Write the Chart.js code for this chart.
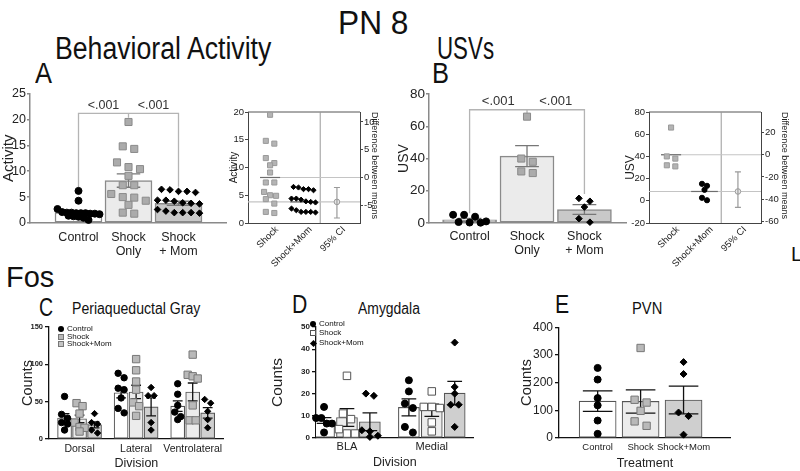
<!DOCTYPE html>
<html lang="en">
<head>
<meta charset="utf-8">
<title>PN 8</title>
<script src="https://cdn.jsdelivr.net/npm/chart.js@4.4.1/dist/chart.umd.min.js"></script>
<style>
  body { margin: 0; background: #fff; }
  #fig { position: relative; width: 800px; height: 471px; overflow: hidden; background: #fff;
         font-family: "Liberation Sans", Arial, sans-serif; color: #111; }
  #fig canvas { position: absolute; }
  .t { position: absolute; white-space: nowrap; line-height: 1; transform-origin: 0 0; }
  .lg { position: absolute; white-space: nowrap; font-size: 8px; line-height: 8px; color: #111; }
  .mk { display: inline-block; width: 6px; height: 6px; box-sizing: border-box; margin-right: 3px; vertical-align: -1px; }
  .dot { background: #000; border-radius: 50%; }
  .sq { background: #b9b9b9; border: 1px solid #777; }
  .sq2 { background: #c4c4c4; border: 1px solid #777; }
  .sqo { background: #fff; border: 1px solid #555; }
  .dia { width: 5px; height: 5px; background: #000; transform: rotate(45deg); margin-left: 1px; }
</style>
</head>
<body>
<div id="fig">
  <div class="t" style="left:338px;top:6px;font-size:33px;transform:scaleX(.96)">PN 8</div>
  <div class="t" style="left:55px;top:33px;font-size:31px;transform:scaleX(.86)">Behavioral Activity</div>
  <div class="t" style="left:437px;top:33px;font-size:31px;transform:scaleX(.72)">USVs</div>
  <div class="t" style="left:35px;top:58px;font-size:30px;transform:scaleX(.85)">A</div>
  <div class="t" style="left:432px;top:58px;font-size:30px;transform:scaleX(.85)">B</div>
  <div class="t" style="left:6px;top:263px;font-size:29px">Fos</div>
  <div class="t" style="left:39px;top:295px;font-size:25px;transform:scaleX(.78)">C</div>
  <div class="t" style="left:72px;top:301px;font-size:16px;transform:scaleX(.88)">Periaqueductal Gray</div>
  <div class="t" style="left:292px;top:292px;font-size:25px;transform:scaleX(.85)">D</div>
  <div class="t" style="left:358px;top:301px;font-size:16px;transform:scaleX(.87)">Amygdala</div>
  <div class="t" style="left:555px;top:292px;font-size:25px;transform:scaleX(.85)">E</div>
  <div class="t" style="left:632px;top:301px;font-size:16px;transform:scaleX(.92)">PVN</div>
  <div class="t" style="left:791px;top:244px;font-size:20px">L</div>

  <canvas id="cA" width="232" height="175" style="left:0;top:85px"></canvas>
  <canvas id="cAe" width="152" height="180" style="left:228px;top:100px"></canvas>
  <canvas id="cB" width="242" height="175" style="left:390px;top:85px"></canvas>
  <canvas id="cBe" width="170" height="180" style="left:620px;top:100px"></canvas>
  <canvas id="cC" width="230" height="153" style="left:0;top:318px"></canvas>
  <canvas id="cD" width="212" height="153" style="left:268px;top:318px"></canvas>
  <canvas id="cE" width="220" height="153" style="left:517px;top:318px"></canvas>
</div>

<script>
// ---- data ----
const treatments = ['Control', 'Shock', 'Shock+Mom'];

// A: behavioural activity
const actLabels = [['Control'], ['Shock', 'Only'], ['Shock', '+ Mom']];
const actTicks = [0, 5, 10, 15, 20, 25];
const actControl = [6.2, 4.3, 2.7, 2.1, 2.0, 2.0, 1.9, 1.9, 1.9, 1.8, 1.8, 1.7, 1.4, 1.3, 1.2, 1.0, 0.6];
const actShock = [19.5, 14.8, 14.3, 11.7, 10.8, 10.4, 9.1, 7.3, 7.3, 5.6, 5.0, 4.9, 4.3, 3.5, 2.0, 1.8];
const actMom = [6.5, 6.4, 6.1, 6.1, 5.9, 4.4, 4.4, 4.2, 3.9, 3.8, 3.7, 2.6, 2.3, 2.0, 2.0, 2.0, 1.9];
const actMean = [2.0, 8.2, 3.8];
const actSem = [0.4, 1.3, 0.4];
const actP = ['<.001', '<.001'];
const actEstTicks = [0, 5, 10, 15, 20];
const actDiffTicks = [-5, 0, 5, 10];
const actCI = [-7.3, -1.8];

// B: USVs
const usvLabels = [['Control'], ['Shock', 'Only'], ['Shock', '+ Mom']];
const usvTicks = [0, 20, 40, 60, 80];
const usvControl = [5.1, 5.1, 3.9, 1.0, 0.6, 0.3, 0.2];
const usvShock = [66, 40, 38, 32, 31];
const usvMom = [15.3, 13.5, 9.9, 2.7, 0.5];
const usvMean = [2.0, 41.5, 8.4];
const usvSem = [0.9, 6.5, 3.0];
const usvP = ['<.001', '<.001'];
const usvEstTicks = [-20, 0, 20, 40, 60, 80];
const usvDiffTicks = [-60, -40, -20, 0, 20];
const usvCI = [-47.5, -15.5];

const estLabels = ['Shock', 'Shock+Mom', '95% CI'];

// C: periaqueductal gray
const pagDivisions = ['Dorsal', 'Lateral', 'Ventrolateral'];
const pagTicks = [0, 50, 100, 150];
const pagControl = [[57, 33, 28, 22, 20, 12], [88, 82, 68, 66, 55, 41, 35], [74, 60, 45, 36, 30, 26]];
const pagShock = [[48, 44, 34, 22, 16, 15, 10], [107, 92, 77, 66, 49, 44, 31], [113, 86, 84, 81, 45, 25, 25]];
const pagMom = [[34, 22, 20, 12, 8], [69, 58, 58, 22, 12], [53, 48, 37, 26, 15]];
const pagControlMean = [28, 62, 44];
const pagShockMean = [27, 63, 63];
const pagMomMean = [19, 43, 35];
const pagControlSem = [6, 7, 7];
const pagShockSem = [5, 9, 12];
const pagMomSem = [4, 12, 7];

// D: amygdala
const amyDivisions = ['BLA', 'Medial'];
const amyTicks = [0, 10, 20, 30, 40, 50];
const amyControl = [[14, 9, 9, 6.5, 6.5, 2.5], [26, 21, 15.5, 13.5, 5, 2.5]];
const amyShock = [[28, 11, 8.5, 4, 2, 2], [21, 14, 14, 13.5, 7, 3]];
const amyMom = [[20, 19, 3.5, 3, 1, 0.5], [43, 23, 20, 15, 15, 5]];
const amyControlMean = [7.9, 13.8];
const amyShockMean = [9.2, 12.5];
const amyMomMean = [7.3, 20.2];
const amyControlSem = [1.3, 3.8];
const amyShockSem = [4.0, 2.8];
const amyMomSem = [4.0, 5.3];

// E: PVN
const pvnTicks = [0, 100, 200, 300, 400];
const pvnControl = [253, 211, 144, 118, 63, 15];
const pvnShock = [325, 138, 128, 98, 60, 44];
const pvnMom = [274, 231, 92, 79, 12];
const pvnMean = [133, 132, 137];
const pvnSem = [37, 42, 50];

// ---- helpers ----
Chart.defaults.font.family = '"Liberation Sans", Arial, sans-serif';
Chart.defaults.color = '#222';

const GRAY = '#8a8a8a';
const BLACK = '#111';

// mean +/- sem whiskers on bar datasets
const errorBars = {
  id: 'errorBars',
  afterDatasetDraw(chart, args) {
    const ds = chart.data.datasets[args.index];
    if (!ds.sem) return;
    const ctx = chart.ctx, y = chart.scales.y;
    ctx.save();
    ctx.strokeStyle = ds.err;
    ctx.lineWidth = 1.3;
    args.meta.data.forEach((bar, i) => {
      const m = ds.data[i].y, s = ds.sem[i];
      const yt = y.getPixelForValue(m + s), yb = y.getPixelForValue(m - s);
      const cap = bar.width * ds.cap;
      ctx.beginPath();
      ctx.moveTo(bar.x, yt); ctx.lineTo(bar.x, yb);
      ctx.moveTo(bar.x - cap, yt); ctx.lineTo(bar.x + cap, yt);
      ctx.moveTo(bar.x - cap, yb); ctx.lineTo(bar.x + cap, yb);
      ctx.stroke();
    });
    ctx.restore();
  }
};

// comparison bracket with p values
const bracket = {
  id: 'bracket',
  beforeDatasetsDraw(chart, args, o) {
    const ctx = chart.ctx, x = chart.scales.x, y = chart.scales.y;
    const [x0, x1, x2] = o.at.map(v => x.getPixelForValue(v));
    const yt = y.getPixelForValue(o.top);
    ctx.save();
    ctx.strokeStyle = o.color;
    ctx.lineWidth = 1.3;
    ctx.beginPath();
    ctx.moveTo(x0, y.getPixelForValue(o.legs[0])); ctx.lineTo(x0, yt);
    ctx.lineTo(x2, yt); ctx.lineTo(x2, y.getPixelForValue(o.legs[2]));
    ctx.moveTo(x1, yt); ctx.lineTo(x1, y.getPixelForValue(o.legs[1]));
    ctx.stroke();
    ctx.fillStyle = '#333';
    ctx.font = o.size + 'px "Liberation Sans", Arial, sans-serif';
    ctx.textAlign = 'center';
    ctx.textBaseline = 'middle';
    const yl = y.getPixelForValue(o.labelAt);
    ctx.fillText(o.labels[0], (x0 + x1) / 2, yl);
    ctx.fillText(o.labels[1], (x1 + x2) / 2, yl);
    ctx.restore();
  }
};

// estimation plot decorations: frame, divider, mean lines, CI whisker
const estimation = {
  id: 'estimation',
  beforeDatasetsDraw(chart, args, o) {
    const ctx = chart.ctx, a = chart.chartArea, x = chart.scales.x, y = chart.scales.y;
    const seg = (x1, y1, x2, y2) => { ctx.beginPath(); ctx.moveTo(x1, y1); ctx.lineTo(x2, y2); ctx.stroke(); };
    ctx.save();
    ctx.lineWidth = 1;
    ctx.strokeStyle = '#555';
    seg(a.left, a.top, a.right, a.top);
    ctx.strokeStyle = '#9a9a9a';
    const xd = x.getPixelForValue(o.divider);
    seg(xd, a.top, xd, a.bottom);
    const y1 = y.getPixelForValue(o.means[0]), y2 = y.getPixelForValue(o.means[1]);
    ctx.lineWidth = 1.2;
    ctx.strokeStyle = '#c4c4c4';
    seg(x.getPixelForValue(-0.3), y1, a.right, y1);
    seg(a.left, y2, a.right, y2);
    ctx.strokeStyle = '#6e6e6e';
    seg(x.getPixelForValue(-0.3), y1, x.getPixelForValue(0.3), y1);
    seg(x.getPixelForValue(0.6), y2, x.getPixelForValue(1.4), y2);
    ctx.restore();
  },
  afterDatasetsDraw(chart, args, o) {
    const ctx = chart.ctx, x = chart.scales.x, y2 = chart.scales.y2;
    const cx = x.getPixelForValue(2), lo = y2.getPixelForValue(o.ci[0]), hi = y2.getPixelForValue(o.ci[1]);
    ctx.save();
    ctx.strokeStyle = '#9a9a9a';
    ctx.lineWidth = 1.2;
    ctx.beginPath();
    ctx.moveTo(cx, lo); ctx.lineTo(cx, hi);
    ctx.moveTo(cx - 3, lo); ctx.lineTo(cx + 3, lo);
    ctx.moveTo(cx - 3, hi); ctx.lineTo(cx + 3, hi);
    ctx.stroke();
    ctx.restore();
  }
};

// spread overlapping points sideways, row by row (Prism style scatter)
function swarm(chart) {
  const xs = chart.scales.x, ys = chart.scales.y;
  chart.data.datasets.forEach(ds => {
    if (!ds.spread) return;
    const {row, step, half} = ds.spread;
    const groups = {};
    ds.data.forEach(p => (groups[p.c] = groups[p.c] || []).push(p));
    Object.values(groups).forEach(pts => {
      pts.sort((a, b) => b.y - a.y);
      let cur = [];
      const flush = () => {
        const n = cur.length;
        const st = n > 1 ? Math.min(step, 2 * half / (n - 1)) : 0;
        cur.forEach((p, i) => {
          p.x = xs.getValueForPixel(xs.getPixelForValue(p.c) + (i - (n - 1) / 2) * st);
        });
        cur = [];
      };
      pts.forEach(p => {
        if (cur.length && ys.getPixelForValue(p.y) - ys.getPixelForValue(cur[0].y) >= row) flush();
        cur.push(p);
      });
      flush();
    });
  });
  chart.update('none');
}

function dots(groups, centers, look, spread) {
  return {
    type: 'scatter',
    data: groups.flatMap((g, i) => g.map(v => ({x: centers[i], y: v, c: centers[i]}))),
    pointStyle: look.style, pointRadius: look.r, pointHoverRadius: look.r,
    pointBackgroundColor: look.fill, pointBorderColor: look.edge, pointBorderWidth: 1,
    yAxisID: 'y', order: 1, clip: false, spread
  };
}

function bars(means, sems, centers, fill, look) {
  return {
    type: 'bar',
    data: means.map((m, i) => ({x: centers[i], y: m})),
    sem: sems, err: look.err, cap: look.cap,
    backgroundColor: fill, borderColor: look.edge, borderWidth: look.bw, borderSkipped: false,
    maxBarThickness: look.w, barPercentage: 1, categoryPercentage: 1, grouped: false, order: 2
  };
}

function yAxis(o) {
  return {
    type: 'linear', position: o.pos || 'left', min: o.min, max: o.max,
    afterBuildTicks: s => { s.ticks = o.ticks.map(v => ({value: v})); },
    afterFit: s => { s.width = o.width; },
    border: {color: o.color, width: o.lw},
    grid: {drawOnChartArea: false, drawTicks: true, tickLength: o.tl || 4, color: o.color, lineWidth: o.lw},
    ticks: {font: o.font, color: '#222', padding: o.tp === undefined ? 2 : o.tp},
    title: {display: !!o.title, text: o.title, align: o.align || 'center', color: '#222',
            font: {size: o.titleSize}, padding: {top: o.titlePad || 0, bottom: 0}}
  };
}

function xAxis(o) {
  return {
    type: 'linear', position: 'bottom', min: o.min, max: o.max, offset: false,
    afterBuildTicks: s => { s.ticks = o.labels.map((_, i) => ({value: i})); },
    afterFit: s => { s.height = o.height; },
    border: {color: o.color, width: o.lw},
    grid: {display: false, drawTicks: false},
    ticks: {font: o.font, color: '#222', padding: o.pad, autoSkip: false, labelOffset: o.shift || 0,
            maxRotation: o.rot || 0, minRotation: o.rot || 0,
            callback: v => (o.labels[v] !== undefined ? o.labels[v] : '')},
    title: {display: !!o.title, text: o.title, color: '#222', font: {size: o.titleSize}, padding: {top: 0, bottom: o.titlePad || 0}}
  };
}

function options(pad, scales, extra) {
  return {
    responsive: false, animation: false, events: [],
    layout: {padding: Object.assign({left: 0, right: 0, top: 0, bottom: 0}, pad)},
    scales,
    plugins: Object.assign({legend: {display: false}, tooltip: {enabled: false}}, extra || {})
  };
}

const circle = (r) => ({style: 'circle', r, fill: '#000', edge: '#000'});
const square = (r, fill, edge) => ({style: 'rect', r, fill, edge});
const diamond = (r) => ({style: 'rectRot', r, fill: '#000', edge: '#000'});

// ---- A: activity bar chart ----
const chartA = new Chart(document.getElementById('cA'), {
  type: 'bar',
  data: {datasets: [
    dots([actControl], [0], circle(3.5), {row: 6, step: 5, half: 21}),
    dots([actShock], [1], square(5, '#ababab', '#8a8a8a'), {row: 7, step: 11.5, half: 18}),
    dots([actMom], [2], diamond(3.3), {row: 7, step: 8.5, half: 21}),
    bars(actMean, actSem, [0, 1, 2], ['#ffffff', '#ebebeb', '#c9c9c9'], {edge: GRAY, bw: 1.5, w: 47, err: '#777', cap: 0.25})
  ]},
  options: options({top: 8, right: 4}, {
    x: xAxis({min: -0.97, max: 2.95, labels: actLabels, height: 37, font: {size: 12.5, lineHeight: 1.08}, pad: 8, color: GRAY, lw: 1.5}),
    y: yAxis({min: 0, max: 25, ticks: actTicks, width: 30, font: {size: 12.5}, color: GRAY, lw: 1.5, tl: 3, tp: 1,
              title: 'Activity', titleSize: 15})
  }, {bracket: {at: [0, 1, 2], top: 21.15, legs: [6.6, 20.3, 7.0], labels: actP, labelAt: 22.6, color: '#b4b4b4', size: 12.5}}),
  plugins: [errorBars, bracket]
});
swarm(chartA);

// ---- B: USV bar chart ----
const chartB = new Chart(document.getElementById('cB'), {
  type: 'bar',
  data: {datasets: [
    dots([usvControl], [0], circle(3.5), {row: 7, step: 11, half: 22}),
    dots([usvShock], [1], square(5, '#ababab', '#8a8a8a'), {row: 7, step: 11.5, half: 20}),
    dots([usvMom], [2], diamond(3.3), {row: 7, step: 11, half: 20}),
    bars(usvMean, usvSem, [0, 1, 2], ['#ffffff', '#ebebeb', '#c9c9c9'], {edge: GRAY, bw: 1.5, w: 54, err: '#777', cap: 0.22})
  ]},
  options: options({top: 7, right: 4}, {
    x: xAxis({min: -0.707, max: 2.724, labels: usvLabels, height: 37, font: {size: 12.5, lineHeight: 1.12}, pad: 6.5, color: GRAY, lw: 1.5}),
    y: yAxis({min: 0, max: 80, ticks: usvTicks, width: 39, font: {size: 13.5}, color: GRAY, lw: 1.5, tl: 3, tp: 1,
              title: 'USV', titleSize: 14, titlePad: 5.6})
  }, {bracket: {at: [0, 1, 2], top: 70.3, legs: [6, 67.3, 18], labels: usvP, labelAt: 75.6, color: '#b4b4b4', size: 13}}),
  plugins: [errorBars, bracket]
});
swarm(chartB);

// ---- estimation plots ----
function estChart(id, c) {
  const shift = c.means[1];
  const chart = new Chart(document.getElementById(id), {
    type: 'scatter',
    data: {datasets: [
      dots([c.shock], [0], square(3.6, '#b4b4b4', '#9a9a9a'), {row: 5, step: 8.5, half: 6}),
      dots([c.mom], [1], c.momLook, {row: 4.5, step: 5, half: 12}),
      {type: 'scatter', yAxisID: 'y2', data: [{x: 2, y: c.means[2] - c.means[1]}], clip: false,
       pointStyle: 'circle', pointRadius: 2.8, pointBackgroundColor: '#e8e8e8', pointBorderColor: '#9a9a9a', pointBorderWidth: 1}
    ]},
    options: options({top: 12}, {
      x: xAxis({min: -0.66, max: 2.69, labels: estLabels, height: c.xh, font: {size: 9.5}, pad: 1, rot: 45, shift: 7, color: '#444', lw: 1}),
      y: yAxis({min: c.min, max: c.max, ticks: c.ticks, width: c.lw, font: {size: 9.5}, color: '#444', lw: 1, tl: 3, tp: 1,
                title: c.title, titleSize: c.titleSize, titlePad: c.titlePad}),
      y2: yAxis({pos: 'right', min: c.min - shift, max: c.max - shift, ticks: c.diffTicks, width: c.rw, font: {size: 9.5}, color: '#444', lw: 1, tl: 3, tp: 1,
                 title: 'Difference between means', titleSize: 9, align: 'end'})
    }, {estimation: {means: [c.means[1], c.means[2]], divider: 1.5, ci: c.ci}}),
    plugins: [estimation]
  });
  swarm(chart);
  return chart;
}

estChart('cAe', {shock: actShock, mom: actMom, momLook: diamond(2.6), means: actMean, min: 0, max: 20, ticks: actEstTicks,
  diffTicks: actDiffTicks, ci: actCI, lw: 20, rw: 20, xh: 57, title: 'Activity', titleSize: 10, titlePad: 0});
estChart('cBe', {shock: usvShock, mom: usvMom, momLook: circle(2.6), means: usvMean, min: -20, max: 80, ticks: usvEstTicks,
  diffTicks: usvDiffTicks, ci: usvCI, lw: 29, rw: 29, xh: 57, title: 'USV', titleSize: 12, titlePad: 3.5});

// ---- grouped Fos panels ----
function fosChart(id, c) {
  const at = (d) => c.divisions.map((_, i) => i + d * c.off);
  const chart = new Chart(document.getElementById(id), {
    type: 'bar',
    data: {datasets: [
      dots(c.pts[0], at(-1), circle(c.r), c.spread),
      dots(c.pts[1], at(0), c.shockLook, c.spread),
      dots(c.pts[2], at(1), diamond(c.r), c.spread),
      bars(c.means[0], c.sems[0], at(-1), '#ffffff', c.bar),
      bars(c.means[1], c.sems[1], at(0), '#ececec', c.bar),
      bars(c.means[2], c.sems[2], at(1), '#cfcfcf', c.bar)
    ]},
    options: options(c.pad, {
      x: xAxis({min: c.xmin, max: c.xmax, labels: c.divisions, height: c.xh, font: {size: c.xfont}, pad: c.xpad, color: BLACK, lw: 1.3,
                title: c.xtitle, titleSize: 12.5, titlePad: c.xtitlePad}),
      y: yAxis({min: 0, max: c.ticks[c.ticks.length - 1], ticks: c.ticks, width: c.yw, font: c.yfont, color: BLACK, lw: 1.3,
                title: 'Counts', titleSize: c.ytitleSize, titlePad: c.ytitlePad})
    }),
    plugins: [errorBars]
  });
  swarm(chart);
  return chart;
}

fosChart('cC', {
  divisions: pagDivisions, off: 0.265, ticks: pagTicks,
  pts: [pagControl, pagShock, pagMom],
  means: [pagControlMean, pagShockMean, pagMomMean], sems: [pagControlSem, pagShockSem, pagMomSem],
  r: 3.2, shockLook: square(5.2, '#b9b9b9', '#777'), spread: {row: 6, step: 6, half: 5},
  bar: {edge: '#555', bw: 1.1, w: 14, err: '#111', cap: 0.35},
  pad: {top: 9, right: 6}, xmin: -0.54, xmax: 2.55, xh: 32, xfont: 10.5, xpad: 3.7, xtitle: 'Division', xtitlePad: 0,
  yw: 49, yfont: {size: 7.5, weight: 'bold'}, ytitleSize: 14.5, ytitlePad: 19
});

fosChart('cD', {
  divisions: amyDivisions, off: 0.27, ticks: amyTicks,
  pts: [amyControl, amyShock, amyMom],
  means: [amyControlMean, amyShockMean, amyMomMean], sems: [amyControlSem, amyShockSem, amyMomSem],
  r: 3.5, shockLook: square(5.3, '#ffffff', '#555'), spread: {row: 6, step: 8, half: 8},
  bar: {edge: '#555', bw: 1.1, w: 21, err: '#111', cap: 0.35},
  pad: {top: 9, right: 6}, xmin: -0.365, xmax: 1.494, xh: 33, xfont: 11, xpad: 2.4, xtitle: 'Division', xtitlePad: 1,
  yw: 48, yfont: {size: 8, weight: 'bold'}, ytitleSize: 15.5, ytitlePad: 0
});

// ---- E: PVN ----
const chartE = new Chart(document.getElementById('cE'), {
  type: 'bar',
  data: {datasets: [
    dots([pvnControl], [0], circle(3.5), {row: 6, step: 8, half: 10}),
    dots([pvnShock], [1], square(5.2, '#b9b9b9', '#777'), {row: 6, step: 12, half: 12}),
    dots([pvnMom], [2], diamond(3.5), {row: 6, step: 10, half: 12}),
    bars(pvnMean, pvnSem, [0, 1, 2], ['#ffffff', '#ececec', '#cfcfcf'], {edge: '#555', bw: 1.1, w: 37, err: '#111', cap: 0.4})
  ]},
  options: options({top: 8, right: 4}, {
    x: xAxis({min: -0.9, max: 3.1, labels: treatments, height: 33, font: {size: 9.5}, pad: 3.3, color: BLACK, lw: 1.3,
              title: 'Treatment', titleSize: 12.5, titlePad: 0}),
    y: yAxis({min: 0, max: 400, ticks: pvnTicks, width: 42, font: {size: 12}, color: BLACK, lw: 1.3, title: 'Counts', titleSize: 14.8, titlePad: 1})
  }),
  plugins: [errorBars]
});
swarm(chartE);

// ---- legends for C and D ----
const fig = document.getElementById('fig');
function legend(x, y, dy, marks) {
  treatments.forEach((name, i) => {
    const row = document.createElement('div');
    row.className = 'lg';
    row.style.left = x + 'px';
    row.style.top = (y + i * dy) + 'px';
    row.innerHTML = '<i class="mk ' + marks[i] + '"></i>' + name;
    fig.appendChild(row);
  });
}
legend(58, 325, 7.6, ['dot', 'sq', 'sq2']);
legend(310, 320, 9.3, ['dot', 'sqo', 'dia']);
</script>
</body>
</html>
